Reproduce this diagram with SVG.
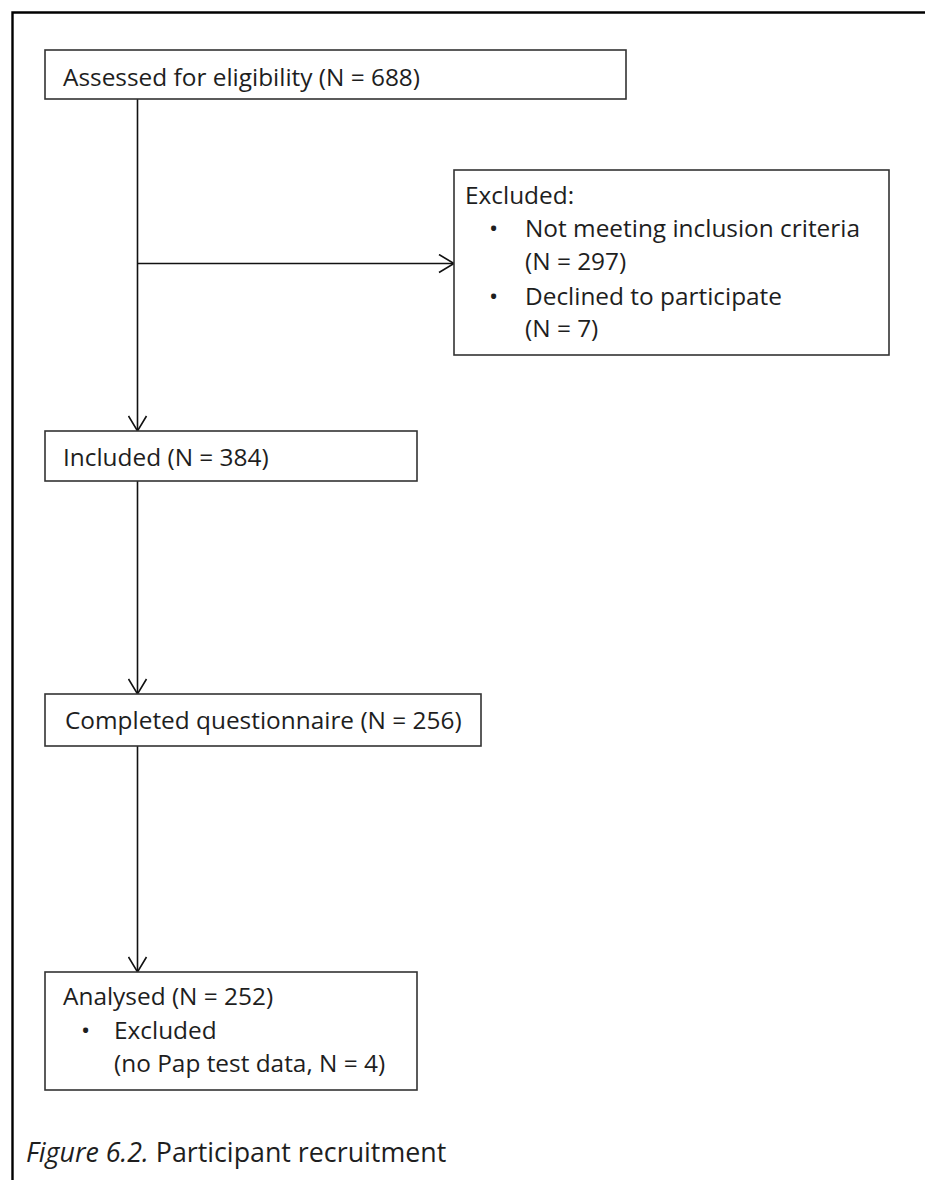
<svg xmlns="http://www.w3.org/2000/svg" width="925" height="1180" viewBox="0 0 925 1180">
  <style>
    .box { fill: #ffffff; stroke: #333333; stroke-width: 1.6; }
    .t { font-family: "Open Sans", "Liberation Sans", sans-serif; font-size: 24.4px; fill: #1e1e1e; }
    .cap { font-family: "Open Sans", "Liberation Sans", sans-serif; font-size: 26.8px; fill: #1e1e1e; }
    .conn { stroke: #111111; stroke-width: 1.6; fill: none; }
    .frame { stroke: #000000; stroke-width: 2.4; fill: none; }
  </style>
  <defs>
    <marker id="arr" viewBox="0 0 20 20" refX="16" refY="10" markerWidth="20" markerHeight="20" markerUnits="userSpaceOnUse" orient="auto">
      <path d="M1,1 L16,10 L1,19" fill="none" stroke="#111111" stroke-width="1.6"/>
    </marker>
  </defs>
  <rect width="925" height="1180" fill="#ffffff"/>
  <path class="frame" d="M12.5,1180 L12.5,12.5 L925,12.5"/>

  <g id="connectors">
    <line class="conn" x1="137.5" y1="99" x2="137.5" y2="431" marker-end="url(#arr)"/>
    <line class="conn" x1="137.5" y1="263.5" x2="454" y2="263.5" marker-end="url(#arr)"/>
    <line class="conn" x1="137.5" y1="481" x2="137.5" y2="694" marker-end="url(#arr)"/>
    <line class="conn" x1="137.5" y1="746" x2="137.5" y2="972" marker-end="url(#arr)"/>
  </g>

  <g id="assessed">
    <rect class="box" x="45" y="50" width="581" height="49"/>
    <text class="t" x="63" y="85.5">Assessed for eligibility (N = 688)</text>
  </g>

  <g id="excluded">
    <rect class="box" x="454" y="170" width="435" height="185"/>
    <text class="t" x="465" y="204">Excluded:</text>
    <text class="t" x="489" y="237">•</text>
    <text class="t" x="525" y="237">Not meeting inclusion criteria</text>
    <text class="t" x="525" y="270">(N = 297)</text>
    <text class="t" x="489" y="305">•</text>
    <text class="t" x="525" y="305">Declined to participate</text>
    <text class="t" x="525" y="337">(N = 7)</text>
  </g>

  <g id="included">
    <rect class="box" x="45" y="431" width="372" height="50"/>
    <text class="t" x="63" y="466">Included (N = 384)</text>
  </g>

  <g id="completed">
    <rect class="box" x="45" y="694" width="436" height="52"/>
    <text class="t" x="65" y="729">Completed questionnaire (N = 256)</text>
  </g>

  <g id="analysed">
    <rect class="box" x="45" y="972" width="372" height="118"/>
    <text class="t" x="63" y="1005">Analysed (N = 252)</text>
    <text class="t" x="81" y="1039">•</text>
    <text class="t" x="114" y="1039">Excluded</text>
    <text class="t" x="114" y="1072">(no Pap test data, N = 4)</text>
  </g>

  <text class="cap" x="26" y="1162"><tspan font-style="italic">Figure 6.2.</tspan> Participant recruitment</text>
</svg>
